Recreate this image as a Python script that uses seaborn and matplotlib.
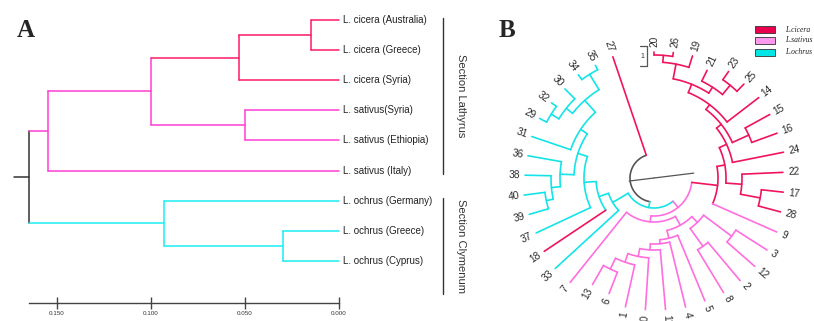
import numpy as np
import matplotlib
matplotlib.use("Agg")
import matplotlib.pyplot as plt
import seaborn as sns
from matplotlib.patches import Rectangle
from matplotlib.lines import Line2D

sns.set_theme(style="white")
plt.rcParams["font.family"] = ["Liberation Sans", "DejaVu Sans"]

# ---------------- panel A data (9 accessions) ----------------
labels_a = ["L. cicera (Australia)", "L. cicera (Greece)", "L. cicera (Syria)",
            "L. sativus(Syria)", "L. sativus (Ethiopia)", "L. sativus (Italy)",
            "L. ochrus (Germany)", "L. ochrus (Greece)", "L. ochrus (Cyprus)"]
clade_a = ["cicera"] * 3 + ["sativus"] * 3 + ["ochrus"] * 3
# merges, new nodes numbered from 9 on
merge_l_a = [0, 9, 3, 10, 12, 7, 6, 13]
merge_r_a = [1, 2, 4, 11, 5, 8, 14, 15]
merge_d_a = [0.015, 0.053, 0.050, 0.100, 0.155, 0.030, 0.093, 0.165]
merge_c_a = ["cicera", "cicera", "sativus", "sativus", "sativus", "ochrus", "ochrus", "root"]
root_stub_a = 0.173
ticks_a = [0.150, 0.100, 0.050, 0.000]
tick_labels_a = ["0.150", "0.100", "0.050", "0.000"]
sections = ["Section Lathyrus", "Section Clymenum"]
section_span = [(-0.07, 5.1), (5.9, 9.1)]

# ---------------- panel B data (40 samples, circular tree) ----------------
leaves_b = ["20", "26", "19", "21", "23", "25", "14", "15", "16", "24", "22", "17", "28",
            "9", "3", "12", "2", "8", "5", "4", "11", "10", "1", "6", "13", "7",
            "33", "18", "37", "39", "40", "38", "36", "31", "29", "32", "30", "34", "35", "27"]
clade_b = (["cicera"] * 13 + ["sativus"] * 13 + ["ochrus", "cicera"] +
           ["ochrus"] * 11 + ["cicera"])
tip_b = [126, 127, 128, 120, 130, 130, 132, 132, 131, 132, 129, 130, 131,
         134, 134, 134, 134, 134, 133, 133, 132, 132, 132, 124, 123, 134,
         134, 132, 130, 130, 131, 129, 128, 129, 129, 127, 126, 128, 127, 128]
merge_l_b = [0, 40, 4, 3, 41, 44, 7, 45, 47, 11, 10, 48, 51,
             14, 16, 53, 23, 22, 21, 20, 19, 18, 55, 62, 52,
             37, 34, 66, 67, 33, 29, 70, 71, 72, 28, 27, 26, 64, 77]
merge_r_b = [1, 2, 5, 42, 43, 6, 8, 46, 9, 12, 49, 50, 13,
             15, 17, 54, 24, 56, 57, 58, 59, 60, 61, 25, 63,
             38, 35, 36, 65, 68, 30, 31, 32, 69, 73, 74, 75, 76, 39]
merge_r_rad = [123, 116, 120, 108, 101, 92, 104, 86, 80, 108, 88, 72, 64,
               97, 84, 62, 101, 89, 80, 72, 66, 62, 54, 44, 38,
               122, 121, 112, 104, 88, 110, 103, 94, 80, 70, 58, 48, 30, 24]
merge_c_b = ["cicera"] * 13 + ["sativus"] * 12 + ["ochrus"] * 13 + ["root"]
step_deg = 8.75

col_a = {"cicera": "#FF1A66", "sativus": "#FF3DD2", "ochrus": "#1AEEF2", "root": "#333333"}
col_b = {"cicera": "#F0145C", "sativus": "#FF6EDF", "ochrus": "#14E4E8", "root": "#555555"}


def layout(n, left, right, height, leaf_h):
    pos = [float(i) for i in range(n)]
    h = list(leaf_h)
    for a, b, d in zip(left, right, height):
        pos.append((pos[a] + pos[b]) / 2)
        h.append(d)
    return pos, h


fig = plt.figure(figsize=(8.14, 3.21), dpi=100)

# ---------------- panel A ----------------
ax = fig.add_axes([0, 0, 470 / 814, 1])
n_a = len(labels_a)
pos, h = layout(n_a, merge_l_a, merge_r_a, merge_d_a, [0.0] * n_a)
node_col = clade_a + merge_c_a
for k, (a, b, d) in enumerate(zip(merge_l_a, merge_r_a, merge_d_a)):
    node = n_a + k
    ax.plot([d, d], [pos[a], pos[b]], color=col_a[node_col[node]], lw=1.1)
    for c in (a, b):
        ax.plot([d, h[c]], [pos[c], pos[c]], color=col_a[node_col[c]], lw=1.1)
root = len(pos) - 1
ax.plot([root_stub_a, h[root]], [pos[root], pos[root]], color=col_a["root"], lw=1.1)
for i, lab in enumerate(labels_a):
    ax.text(-0.002, i, lab, ha="left", va="center", fontsize=7.0,
            family=["Liberation Sans Narrow", "Liberation Sans", "DejaVu Sans"], color="#222222")
for name, (y0, y1) in zip(sections, section_span):
    ax.plot([-0.0553, -0.0553], [y0, y1], color="#333333", lw=1.0)
    ax.text(-0.0648, (y0 + y1) / 2, name, rotation=-90, ha="center", va="center",
            fontsize=8, color="#333333")

ax.set_xlim(0.1803, -0.0697)
ax.set_ylim(10.0, -0.6645)
sns.despine(ax=ax, left=True, top=True, right=True)
ax.spines["bottom"].set_position(("data", 9.40))
ax.spines["bottom"].set_bounds(0.165, 0.0)
ax.spines["bottom"].set_color("#444444")
ax.spines["bottom"].set_linewidth(1.0)
ax.set_xticks(ticks_a)
ax.set_xticklabels(tick_labels_a, fontsize=4.5, color="#333333")
ax.set_yticks([])
ax.tick_params(axis="x", bottom=True, direction="inout", length=8, width=1.0,
               color="#444444", pad=2)
ax.patch.set_alpha(0)

fig.text(17 / 814, 1 - 37 / 321, "A", fontsize=18, fontweight="bold",
         family="Liberation Serif", va="baseline")

# ---------------- panel B ----------------
axp = fig.add_axes([504 / 814, -7 / 321, 300 / 814, 300 / 321], projection="polar")
axp.set_theta_zero_location("N")
axp.set_theta_direction(-1)
n_b = len(leaves_b)
pos_b, h_b = layout(n_b, merge_l_b, merge_r_b, merge_r_rad, tip_b)
node_col_b = clade_b + merge_c_b
for k, (a, b, r) in enumerate(zip(merge_l_b, merge_r_b, merge_r_rad)):
    node = n_b + k
    th = np.radians(np.linspace(pos_b[a], pos_b[b], 60) * step_deg)
    axp.plot(th, np.full_like(th, r), color=col_b[node_col_b[node]], lw=1.2)
    for c in (a, b):
        t = np.radians(pos_b[c] * step_deg)
        axp.plot([t, t], [r, h_b[c]], color=col_b[node_col_b[c]], lw=1.2)
# straight root line through the centre
axp.plot([np.radians(83), np.radians(83)], [0, 40], color="#555555", lw=0.9)
axp.plot([np.radians(263), np.radians(263)], [0, 25], color="#555555", lw=0.9)

for i, lab in enumerate(leaves_b):
    b = (i * step_deg) % 360
    if b < 180:
        rot, ha = 90 - b, "left"
    else:
        rot, ha = 270 - b, "right"
    axp.text(np.radians(b), tip_b[i] + 5, lab, rotation=rot, rotation_mode="anchor",
             ha=ha, va="center", fontsize=7.3, color="#2a2a2a")
axp.set_ylim(0, 150)
axp.axis("off")

fig.text(499 / 814, 1 - 37 / 321, "B", fontsize=18, fontweight="bold",
         family="Liberation Serif", va="baseline")

# scale bar
W, H = 814.0, 321.0
for xs, ys in [([640, 647], [46, 46]), ([647, 647], [46, 66]), ([640, 647], [66, 66])]:
    fig.add_artist(Line2D([x / W for x in xs], [1 - y / H for y in ys],
                          color="#555555", lw=0.9))
fig.text(642 / W, 1 - 57 / H, "1", fontsize=5, ha="center", va="center", color="#333333")

# legend
legend_names = ["L.cicera", "L.sativus", "L.ochrus"]
legend_fill = ["#E8004F", "#FF99EE", "#00E6E6"]
legend_top = [26, 37, 49]
for name, fc, yt in zip(legend_names, legend_fill, legend_top):
    fig.add_artist(Rectangle((755 / W, 1 - (yt + 6.5) / H), 20 / W, 6.5 / H,
                             transform=fig.transFigure, facecolor=fc,
                             edgecolor="#333333", lw=0.6))
    fig.text(785 / W, 1 - (yt + 3.5) / H, name, fontsize=5.5, style="italic",
             family="Liberation Serif", va="center", color="#222222")

fig.savefig("out.png", dpi=100)
